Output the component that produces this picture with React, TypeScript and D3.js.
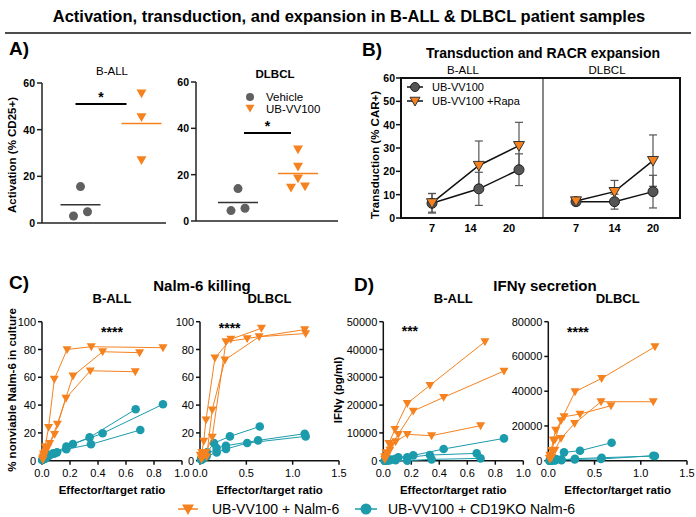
import React from "react";
import * as d3 from "d3";

const W = 696, H = 517;
const FONT = "'Liberation Sans', Arial, Helvetica, sans-serif";
const ORANGE = "#f5821f";
const TEAL = "#1b9bab";
const GRAY = "#606060";

// ---------- Panel A data (activation, % CD25+)
const aGroups = ["Vehicle", "UB-VV100"];
const aBallVehicle = [3.0, 4.8, 15.6];
const aBallUB = [55.6, 45.4, 27.0];
const aDlbclVehicle = [4.5, 5.5, 14.0];
const aDlbclUB = [31.0, 23.5, 18.5, 14.5, 15.0];
const aTicks = [0, 20, 40, 60];
const aSigLevels = [51, 38];

// ---------- Panel B data (transduction, % CAR+)
const bDays = [7, 14, 20];
const bBallMean = [6.3, 12.5, 20.7];
const bBallErr = [4.2, 7.1, 6.8];
const bBallRapaMean = [6.5, 22.5, 31.0];
const bBallRapaErr = [4.0, 10.5, 10.0];
const bDlbclMean = [7.0, 7.0, 11.3];
const bDlbclErr = [1.3, 3.2, 7.0];
const bDlbclRapaMean = [7.3, 11.3, 24.6];
const bDlbclRapaErr = [1.0, 4.8, 11.0];
const bTicks = [0, 10, 20, 30, 40, 50, 60];
const bSeriesNames = ["UB-VV100", "UB-VV100 +Rapa"];

// ---------- Panel C data (% nonviable Nalm-6) : [E:T ratio, value]
const cBallNalm: [number, number][][] = [
  [[0.005, 2], [0.011, 5], [0.022, 10], [0.047, 24], [0.088, 58.6], [0.179, 80], [0.352, 82], [0.864, 81.3]],
  [[0.007, 1], [0.014, 4], [0.028, 7], [0.055, 12.5], [0.11, 26.4], [0.221, 61], [0.433, 78.4], [0.697, 77.7]],
  [[0.005, 1], [0.011, 3], [0.021, 6], [0.043, 10], [0.09, 19], [0.171, 45], [0.345, 64.7], [0.666, 64]],
];
const cBallKO: [number, number][][] = [
  [[0.002, 0.5], [0.027, 2], [0.055, 4], [0.107, 6], [0.221, 12], [0.433, 19.7], [0.864, 40.6]],
  [[0.002, 0.5], [0.021, 1.5], [0.043, 3], [0.08, 5.3], [0.174, 10.1], [0.34, 16.8], [0.669, 37]],
  [[0.002, 0.5], [0.022, 1.5], [0.05, 4], [0.088, 5], [0.174, 8.2], [0.35, 11.8], [0.702, 22.1]],
];
const cDlbclNalm: [number, number][][] = [
  [[0.004, 4], [0.02, 6], [0.04, 14], [0.065, 29.4], [0.161, 73.9], [0.333, 87.4], [0.663, 95.3]],
  [[0.016, 2], [0.033, 5], [0.065, 6], [0.132, 17], [0.28, 85.6], [0.509, 87.9], [1.13, 94.3]],
  [[0.016, 1], [0.033, 3], [0.072, 3], [0.132, 36.6], [0.269, 72.5], [0.638, 89.2], [1.14, 91.5]],
];
const cDlbclKO: [number, number][][] = [
  [[0.01, 1], [0.02, 2], [0.04, 4], [0.075, 6], [0.151, 12.7], [0.323, 17.5], [0.645, 24.6]],
  [[0.016, 1], [0.035, 2], [0.07, 4], [0.179, 9.1], [0.28, 10.8], [0.627, 14.6], [1.13, 19.4]],
  [[0.016, 0.5], [0.035, 1.5], [0.07, 3], [0.18, 6], [0.28, 8.4], [0.509, 12.7], [1.14, 17.5]],
];

// ---------- Panel D data (IFNγ pg/ml)
const dBallNalm: [number, number][][] = [
  [[0.01, 1500], [0.02, 2900], [0.04, 6240], [0.083, 11270], [0.171, 20620], [0.333, 27100], [0.726, 42800]],
  [[0.013, 1000], [0.027, 2500], [0.053, 5500], [0.107, 9470], [0.214, 17870], [0.431, 22780], [0.862, 32250]],
  [[0.011, 500], [0.022, 1500], [0.047, 3840], [0.088, 6830], [0.171, 9470], [0.345, 9000], [0.695, 12590]],
];
const dBallKO: [number, number][][] = [
  [[0.013, 0], [0.027, 200], [0.053, 400], [0.107, 1200], [0.214, 1920], [0.431, 4200], [0.862, 8030]],
  [[0.01, 0], [0.02, 100], [0.04, 300], [0.083, 600], [0.171, 1200], [0.333, 2040], [0.667, 2640]],
  [[0.011, 0], [0.022, 0], [0.044, 100], [0.088, 200], [0.171, 0], [0.345, 480], [0.695, 840]],
];
const dDlbclNalm: [number, number][][] = [
  [[0.018, 3000], [0.036, 6000], [0.072, 12000], [0.137, 23000], [0.289, 39700], [0.577, 47370], [1.153, 65600]],
  [[0.018, 1000], [0.036, 2000], [0.072, 6140], [0.137, 12850], [0.285, 21480], [0.57, 33950], [1.135, 33950]],
  [[0.011, 1500], [0.021, 3260], [0.054, 11890], [0.08, 17650], [0.17, 25300], [0.343, 26850], [0.678, 31650]],
];
const dDlbclKO: [number, number][][] = [
  [[0.011, 0], [0.021, 200], [0.043, 500], [0.085, 1000], [0.17, 4800], [0.343, 5750], [0.685, 10360]],
  [[0.018, 0], [0.036, 100], [0.072, 300], [0.144, 500], [0.289, 1150], [0.577, 1730], [1.153, 2690]],
  [[0.018, 0], [0.036, 50], [0.072, 100], [0.142, 300], [0.285, 700], [0.57, 1000], [1.135, 2880]],
];

const cTicksY = [0, 20, 40, 60, 80, 100];
const ticksX10 = [0, 0.2, 0.4, 0.6, 0.8, 1.0];
const ticksX15 = [0, 0.5, 1.0, 1.5];
const dBallTicksY = [0, 10000, 20000, 30000, 40000, 50000];
const dDlbclTicksY = [0, 20000, 40000, 60000, 80000];
const legendNames = ["UB-VV100 + Nalm-6", "UB-VV100 + CD19KO Nalm-6"];

// ---------- helpers
const tri = (x: number, y: number, s: number) =>
  `M${x - s},${y - s * 0.75}L${x + s},${y - s * 0.75}L${x},${y + s}Z`;

function DotPlot(p: {
  x0: number; x1: number; y0: number; y1: number; pr: [number, number];
  vehicle: number[]; ub: number[]; jv: number[]; ju: number[];
  title: string; titleBold: boolean; titleY: number; sig: number; sigOff: [number, number];
}) {
  const y = d3.scaleLinear().domain([0, 60]).range([p.y0, p.y1]);
  const gx = d3.scalePoint<string>().domain(aGroups).range(p.pr).padding(0.5);
  const xv = gx("Vehicle")!, xu = gx("UB-VV100")!;
  const mv = d3.mean(p.vehicle)!, mu = d3.mean(p.ub)!;
  const sx0 = xv + p.sigOff[0], sx1 = xu + p.sigOff[1];
  return (
    <g>
      <text x={(p.x0 + p.x1) / 2 + 8} y={p.titleY} textAnchor="middle" fontSize={11.5} fontWeight={p.titleBold ? 700 : 400}>{p.title}</text>
      <line x1={p.x0} x2={p.x0} y1={y(0)} y2={y(60)} stroke="#222" strokeWidth={1.5} />
      <line x1={p.x0} x2={p.x1} y1={y(0)} y2={y(0)} stroke="#222" strokeWidth={1.5} />
      {aTicks.map((t) => (
        <g key={t}>
          <line x1={p.x0 - 5} x2={p.x0} y1={y(t)} y2={y(t)} stroke="#222" strokeWidth={1.5} />
          <text x={p.x0 - 7} y={y(t) + 4} textAnchor="end" fontSize={10.5} fontWeight={700}>{t}</text>
        </g>
      ))}
      <line x1={xv - 20} x2={xv + 20} y1={y(mv)} y2={y(mv)} stroke="#333" strokeWidth={1.5} />
      <line x1={xu - 20} x2={xu + 20} y1={y(mu)} y2={y(mu)} stroke={ORANGE} strokeWidth={1.5} />
      {p.vehicle.map((v, i) => <circle key={"v" + i} cx={xv + p.jv[i]} cy={y(v)} r={4.5} fill={GRAY} />)}
      {p.ub.map((v, i) => <path key={"u" + i} d={tri(xu + p.ju[i], y(v), 5)} fill={ORANGE} />)}
      <line x1={sx0} x2={sx1} y1={y(p.sig)} y2={y(p.sig)} stroke="#000" strokeWidth={2} />
      <text x={(sx0 + sx1) / 2} y={y(p.sig) - 2} textAnchor="middle" fontSize={14} fontWeight={700}>*</text>
    </g>
  );
}

function TimePanel(p: {
  scale: (d: number) => number; means: number[][]; errs: number[][];
}) {
  const y = d3.scaleLinear().domain([0, 60]).range([218, 78]);
  return (
    <g>
      {p.means.map((m, si) => (
        <g key={si}>
          {m.map((v, i) => {
            const x = p.scale(bDays[i]);
            const e = p.errs[si][i];
            return (
              <g key={i} stroke="#555" strokeWidth={1.2}>
                <line x1={x} x2={x} y1={y(v - e)} y2={y(v + e)} />
                <line x1={x - 4} x2={x + 4} y1={y(v - e)} y2={y(v - e)} />
                <line x1={x - 4} x2={x + 4} y1={y(v + e)} y2={y(v + e)} />
              </g>
            );
          })}
        </g>
      ))}
      {p.means.map((m, si) => (
        <path key={"l" + si} d={d3.line<number>().x((_, i) => p.scale(bDays[i])).y((v) => y(v))(m)!} fill="none" stroke="#111" strokeWidth={1.5} />
      ))}
      {p.means[0].map((v, i) => (
        <circle key={"c" + i} cx={p.scale(bDays[i])} cy={y(v)} r={5} fill="#555" stroke="#222" strokeWidth={1} />
      ))}
      {p.means[1].map((v, i) => (
        <path key={"t" + i} d={tri(p.scale(bDays[i]), y(v), 5.5)} fill={ORANGE} stroke="#333" strokeWidth={1} />
      ))}
    </g>
  );
}

function LinePlot(p: {
  xDomain: [number, number]; xRange: [number, number]; yMax: number;
  xTicks: number[]; yTicks: number[]; nalm: [number, number][][]; ko: [number, number][][];
  title: string; stars: string; starX: number; starY: number;
}) {
  const x = d3.scaleLinear().domain(p.xDomain).range(p.xRange);
  const y = d3.scaleLinear().domain([0, p.yMax]).range([460.7, 321.7]);
  const line = d3.line<[number, number]>().x((d) => x(d[0])).y((d) => y(d[1]));
  const cx = (p.xRange[0] + p.xRange[1]) / 2;
  const x0 = p.xRange[0];
  return (
    <g>
      <text x={cx} y={303} textAnchor="middle" fontSize={13} fontWeight={700}>{p.title}</text>
      <line x1={x0} x2={x0} y1={y(0)} y2={y(p.yMax)} stroke="#111" strokeWidth={1.5} />
      <line x1={x0} x2={p.xRange[1]} y1={y(0)} y2={y(0)} stroke="#111" strokeWidth={1.5} />
      {p.yTicks.map((t) => (
        <g key={t}>
          <line x1={x0 - 4} x2={x0} y1={y(t)} y2={y(t)} stroke="#111" strokeWidth={1.5} />
          <text x={x0 - 6} y={y(t) + 4} textAnchor="end" fontSize={11}>{t}</text>
        </g>
      ))}
      {p.xTicks.map((t) => (
        <g key={t}>
          <line x1={x(t)} x2={x(t)} y1={y(0)} y2={y(0) + 4} stroke="#111" strokeWidth={1.5} />
          <text x={x(t)} y={477} textAnchor="middle" fontSize={11}>{d3.format(".1f")(t)}</text>
        </g>
      ))}
      <text x={cx} y={494} textAnchor="middle" fontSize={11.5} fontWeight={700}>Effector/target ratio</text>
      <text x={x(p.starX)} y={y(p.starY)} textAnchor="middle" fontSize={14} fontWeight={700}>{p.stars}</text>
      {p.ko.map((s, i) => (
        <g key={"k" + i}>
          <path d={line(s)!} fill="none" stroke={TEAL} strokeWidth={1} />
          {s.map((d, j) => <circle key={j} cx={x(d[0])} cy={y(d[1])} r={4.3} fill={TEAL} />)}
        </g>
      ))}
      {p.nalm.map((s, i) => (
        <g key={"n" + i}>
          <path d={line(s)!} fill="none" stroke={ORANGE} strokeWidth={1} />
          {s.map((d, j) => <path key={j} d={tri(x(d[0]), y(d[1]), 4.5)} fill={ORANGE} />)}
        </g>
      ))}
    </g>
  );
}

export default function App() {
  const bY = d3.scaleLinear().domain([0, 60]).range([218, 78]);
  const bBallX = d3.scaleLinear().domain([7, 20]).range([432, 519]);
  const bDlbclX = d3.scalePoint<number>().domain(bDays).range([576, 653]);
  const bBallLab = d3.scalePoint<number>().domain(bDays).range([432, 509]);
  return (
    <svg width={W} height={H} style={{ position: "absolute", left: 0, top: 0, background: "#fff" }} fontFamily={FONT}>
      <rect width={W} height={H} fill="#fff" />
      <text x={349} y={22} textAnchor="middle" fontSize={16.5} fontWeight={700}>
        Activation, transduction, and expansion in B-ALL &amp; DLBCL patient samples
      </text>
      <line x1={5} x2={691} y1={33} y2={33} stroke="#111" strokeWidth={1.5} />

      {/* Panel A */}
      <text x={9} y={55} fontSize={19} fontWeight={700}>A)</text>
      <text transform="translate(16,155) rotate(-90)" textAnchor="middle" fontSize={11.5} fontWeight={700}>Activation  (% CD25+)</text>
      <DotPlot x0={42} x1={166} y0={223} y1={83} pr={[50, 172]} vehicle={aBallVehicle} ub={aBallUB}
        jv={[-7, 7, 0]} ju={[0, 0, 0]} title="B-ALL" titleBold={false} titleY={75}
        sig={aSigLevels[0]} sigOff={[-5, -15]} />
      <DotPlot x0={196} x1={338} y0={221} y1={82} pr={[208, 328]} vehicle={aDlbclVehicle} ub={aDlbclUB}
        jv={[-7, 7, 0]} ju={[0, 0, 0, -7, 7]} title="DLBCL" titleBold={true} titleY={78}
        sig={aSigLevels[1]} sigOff={[6, -7]} />
      <circle cx={250} cy={97} r={4} fill={GRAY} />
      <text x={266} y={101} fontSize={11.5}>{aGroups[0]}</text>
      <path d={tri(250, 108, 4.5)} fill={ORANGE} />
      <text x={266} y={113} fontSize={11.5}>{aGroups[1]}</text>

      {/* Panel B */}
      <text x={362} y={56} fontSize={19} fontWeight={700}>B)</text>
      <text x={543} y={58} textAnchor="middle" fontSize={14} fontWeight={700}>Transduction and RACR expansion</text>
      <text x={463} y={74} textAnchor="middle" fontSize={11.5}>B-ALL</text>
      <text x={607} y={74} textAnchor="middle" fontSize={11.5}>DLBCL</text>
      <text transform="translate(379,155) rotate(-90)" textAnchor="middle" fontSize={11.5} fontWeight={700}>Transduction (% CAR+)</text>
      <rect x={401} y={78} width={279} height={140} fill="none" stroke="#111" strokeWidth={2} />
      <line x1={543} x2={543} y1={78} y2={218} stroke="#111" strokeWidth={1} />
      {bTicks.map((t) => (
        <g key={t}>
          <line x1={396} x2={401} y1={bY(t)} y2={bY(t)} stroke="#111" strokeWidth={1.5} />
          <text x={395} y={bY(t) + 4} textAnchor="end" fontSize={10.5} fontWeight={700}>{t}</text>
        </g>
      ))}
      {bDays.map((d) => (
        <text key={"bl" + d} x={bBallLab(d)} y={232} textAnchor="middle" fontSize={11} fontWeight={700}>{d}</text>
      ))}
      {bDays.map((d) => (
        <text key={"dl" + d} x={bDlbclX(d)} y={232} textAnchor="middle" fontSize={11} fontWeight={700}>{d}</text>
      ))}
      <TimePanel scale={bBallX} means={[bBallMean, bBallRapaMean]} errs={[bBallErr, bBallRapaErr]} />
      <TimePanel scale={(d) => bDlbclX(d)!} means={[bDlbclMean, bDlbclRapaMean]} errs={[bDlbclErr, bDlbclRapaErr]} />
      <line x1={407} x2={423} y1={87} y2={87} stroke="#111" strokeWidth={1.5} />
      <circle cx={415} cy={87} r={4.5} fill="#555" stroke="#222" />
      <text x={432} y={91} fontSize={11}>{bSeriesNames[0]}</text>
      <line x1={407} x2={423} y1={101} y2={101} stroke="#111" strokeWidth={1.5} />
      <path d={tri(415, 101, 5)} fill={ORANGE} stroke="#333" />
      <text x={432} y={105} fontSize={11}>{bSeriesNames[1]}</text>

      {/* Panel C */}
      <text x={9} y={289} fontSize={19} fontWeight={700}>C)</text>
      <text x={202} y={291} textAnchor="middle" fontSize={15} fontWeight={700}>Nalm-6 killing</text>
      <text transform="translate(16,390) rotate(-90)" textAnchor="middle" fontSize={11.5} fontWeight={700}>% nonviable Nalm-6 in culture</text>
      <LinePlot xDomain={[0, 1]} xRange={[42, 182]} yMax={100} xTicks={ticksX10} yTicks={cTicksY}
        nalm={cBallNalm} ko={cBallKO} title="B-ALL" stars="****" starX={0.5} starY={89} />
      <LinePlot xDomain={[0, 1.5]} xRange={[200, 339]} yMax={100} xTicks={ticksX15} yTicks={cTicksY}
        nalm={cDlbclNalm} ko={cDlbclKO} title="DLBCL" stars="****" starX={0.32} starY={92} />

      {/* Panel D */}
      <text x={354} y={291} fontSize={19} fontWeight={700}>D)</text>
      <text x={545} y={291} textAnchor="middle" fontSize={15} fontWeight={700}>IFNγ secretion</text>
      <text transform="translate(342,390) rotate(-90)" textAnchor="middle" fontSize={11.5} fontWeight={700}>IFNγ (pg/ml)</text>
      <LinePlot xDomain={[0, 1]} xRange={[383.3, 523.3]} yMax={50000} xTicks={ticksX10} yTicks={dBallTicksY}
        nalm={dBallNalm} ko={dBallKO} title="B-ALL" stars="***" starX={0.19} starY={45000} />
      <LinePlot xDomain={[0, 1.5]} xRange={[548.3, 687]} yMax={80000} xTicks={ticksX15} yTicks={dDlbclTicksY}
        nalm={dDlbclNalm} ko={dDlbclKO} title="DLBCL" stars="****" starX={0.32} starY={71000} />

      {/* Legend */}
      <line x1={178} x2={198} y1={509} y2={509} stroke={ORANGE} strokeWidth={1.5} />
      <path d={tri(188, 509, 6)} fill={ORANGE} />
      <text x={212} y={514} fontSize={14}>{legendNames[0]}</text>
      <line x1={355} x2={377} y1={509} y2={509} stroke={TEAL} strokeWidth={1.5} />
      <circle cx={366} cy={509} r={5.5} fill={TEAL} />
      <text x={388} y={514} fontSize={14}>{legendNames[1]}</text>
    </svg>
  );
}
